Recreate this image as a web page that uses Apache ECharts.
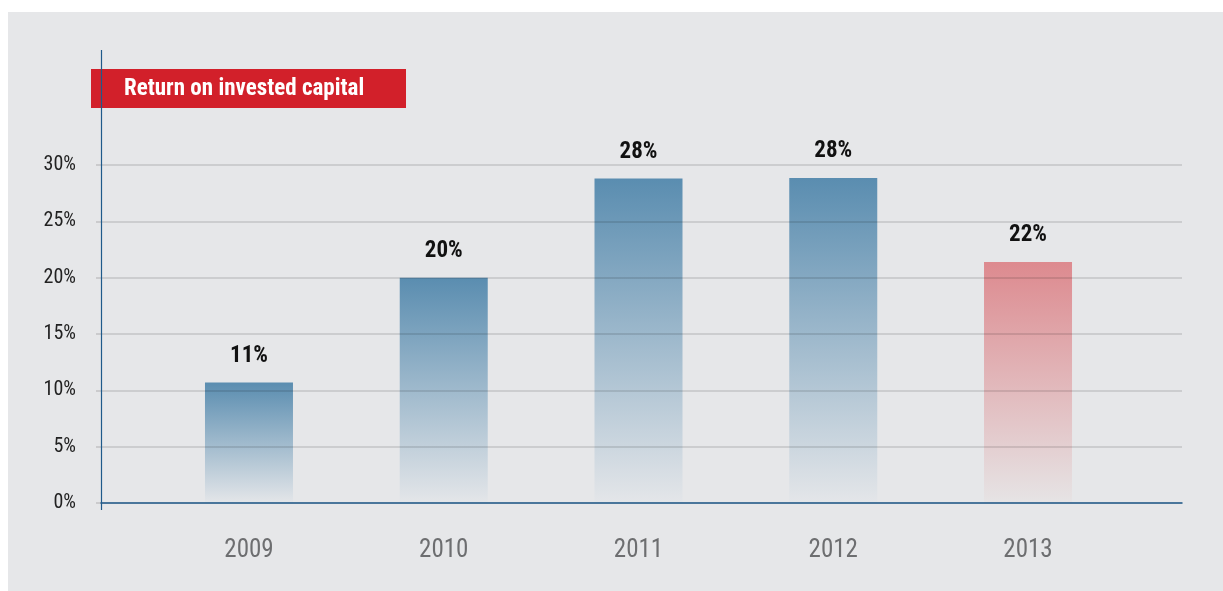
<!DOCTYPE html>
<html>
<head>
<meta charset="utf-8">
<script src="https://cdn.jsdelivr.net/npm/echarts@6/dist/echarts.min.js"></script>
<style>
html,body{margin:0;padding:0;background:#ffffff;}
#chart{width:1223px;height:591px;}
</style>
</head>
<body>
<div id="chart"></div>
<script>
var categories = ['2009', '2010', '2011', '2012', '2013'];
var values = [10.7, 20.0, 28.8, 28.85, 21.4];
var valueLabels = ['11%', '20%', '28%', '28%', '22%'];
var yTicks = [0, 5, 10, 15, 20, 25, 30];
var highlightIndex = 4;
var titleText = 'Return on invested capital';

var FONT = '"Liberation Sans Narrow", "Roboto Condensed", Roboto, sans-serif';

function grad(top, bottom) {
  return new echarts.graphic.LinearGradient(0, 0, 0, 1, [
    {offset: 0, color: top},
    {offset: 1, color: bottom}
  ]);
}

var barData = values.map(function (v, i) {
  var hl = i === highlightIndex;
  return {
    value: v,
    itemStyle: {
      color: hl ? grad('#dd8a8f', '#e6e4e5') : grad('#5a8db0', '#e4e6e9')
    },
    label: {formatter: valueLabels[i]}
  };
});

var chart = echarts.init(document.getElementById('chart'), null, {renderer: 'canvas'});
chart.setOption({
  animation: false,
  backgroundColor: '#ffffff',
  graphic: [
    {type: 'rect', z: -10, silent: true, shape: {x: 8, y: 12, width: 1215, height: 579}, style: {fill: '#e6e7e9'}},
    {type: 'line', z: 50, silent: true, shape: {x1: 101.5, y1: 50, x2: 101.5, y2: 510}, style: {stroke: '#1f5a8a', lineWidth: 1.2}},
    {type: 'rect', z: 40, silent: true, shape: {x: 91, y: 69, width: 315, height: 39}, style: {fill: '#d2202a'}},
    {type: 'text', z: 60, silent: true, x: 124, y: 89, style: {text: titleText, fill: '#ffffff', font: 'bold 23px ' + FONT, textVerticalAlign: 'middle', verticalAlign: 'middle'}}
  ],
  grid: [
    {left: 101, right: 41, top: 165, bottom: 88, containLabel: false},
    {left: 151.6, right: 97.6, top: 165, bottom: 88, containLabel: false}
  ],
  xAxis: [
    {
      type: 'category', gridIndex: 0, data: [''], show: true,
      axisLine: {show: true, lineStyle: {color: '#1f5a8a', width: 1.5}},
      axisTick: {show: false}, axisLabel: {show: false}, splitLine: {show: false}, z: 20
    },
    {
      type: 'category', gridIndex: 1, data: categories,
      axisLine: {show: false}, axisTick: {show: false},
      axisLabel: {color: '#6d6e70', fontSize: 25, fontFamily: FONT, margin: 35}
    }
  ],
  yAxis: [
    {
      type: 'value', gridIndex: 0, min: 0, max: 30, interval: 5, z: 10,
      axisLine: {show: false},
      axisTick: {show: true, length: 5, lineStyle: {color: 'rgba(0,0,0,0.16)', width: 1.5}},
      axisLabel: {color: '#222222', fontSize: 20, fontFamily: FONT, margin: 25,
        formatter: function (v) { return yTicks.indexOf(v) >= 0 ? v + '%' : ''; }},
      splitLine: {show: true, lineStyle: {color: 'rgba(0,0,0,0.15)', width: 1.5}}
    },
    {
      type: 'value', gridIndex: 1, min: 0, max: 30, interval: 5, show: false,
      splitLine: {show: false}
    }
  ],
  series: [
    {
      type: 'bar', xAxisIndex: 1, yAxisIndex: 1, data: barData, barWidth: 88, z: 2,
      label: {show: true, position: 'top', distance: 15, color: '#111111', fontWeight: 'bold', fontSize: 23, fontFamily: FONT}
    }
  ]
});
</script>
</body>
</html>
